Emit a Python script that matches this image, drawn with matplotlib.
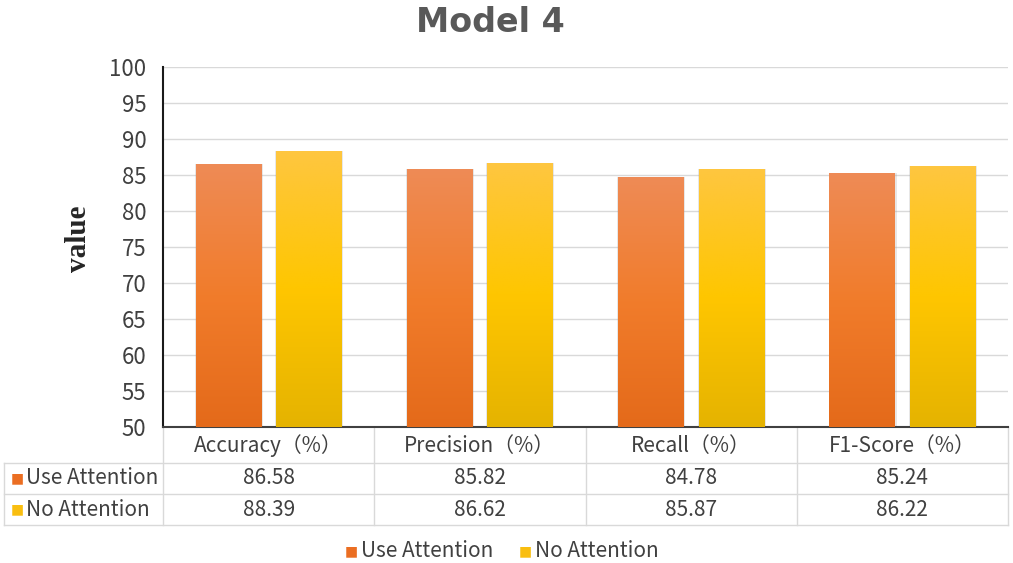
import numpy as np
import matplotlib
matplotlib.use("Agg")
from matplotlib import pyplot as plt
from matplotlib.colors import LinearSegmentedColormap
from matplotlib.patches import Rectangle
from matplotlib.transforms import blended_transform_factory

plt.rcParams['font.family'] = ['Noto Sans CJK SC', 'DejaVu Sans']

# データ
categories = ['Accuracy（%）', 'Precision（%）', 'Recall（%）', 'F1-Score（%）']
series_names = ['Use Attention', 'No Attention']
use_att = [86.58, 85.82, 84.78, 85.24]
no_att = [88.39, 86.62, 85.87, 86.22]
yticks = [50, 55, 60, 65, 70, 75, 80, 85, 90, 95, 100]

W, H = 1013, 563
FS = 15
TC = '#404040'
fig = plt.figure(figsize=(W / 100, H / 100), dpi=100)
ax = fig.add_axes([163 / W, 1 - 427 / H, (1008 - 163) / W, (427 - 67) / H])

# グラデーション
grad_o = LinearSegmentedColormap.from_list('o', ['#E46A1A', '#F17C2B', '#EE8B56'])
grad_y = LinearSegmentedColormap.from_list('y', ['#E5B300', '#FFC600', '#FEC640'])
grad = np.linspace(0, 1, 256).reshape(-1, 1)

x = np.arange(len(categories))
bw = 0.31
off = 0.19
for vals, dx, cmap in [(use_att, -off, grad_o), (no_att, off, grad_y)]:
    for xi, v in zip(x, vals):
        # 影
        sh = Rectangle((xi + dx - bw / 2 - 0.004, 50), bw + 0.012, v - 50,
                       facecolor='#A0A0A0', alpha=0.25, edgecolor='none', zorder=2)
        ax.add_patch(sh)
        r = Rectangle((xi + dx - bw / 2, 50), bw, v - 50, facecolor='none',
                      edgecolor='none', zorder=3)
        ax.add_patch(r)
        im = ax.imshow(grad, cmap=cmap, origin='lower', aspect='auto',
                       extent=[xi + dx - bw / 2, xi + dx + bw / 2, 50, v], zorder=3)
        im.set_clip_path(r)

ax.set_xlim(-0.5, len(categories) - 0.5)
ax.set_ylim(50, 100)
ax.set_yticks(yticks)
ax.set_xticks([])
ax.tick_params(axis='y', length=0, labelsize=16, labelcolor=TC, pad=12)
for lb in ax.get_yticklabels():
    lb.set_fontweight('light')
for t in yticks[1:]:
    ax.axhline(t, color='#D9D9D9', lw=1, zorder=1)
for s in ['top', 'right']:
    ax.spines[s].set_visible(False)
ax.spines['left'].set_color('#1a1a1a')
ax.spines['left'].set_linewidth(1.5)
ax.spines['bottom'].set_color('#404040')
ax.spines['bottom'].set_linewidth(1.5)
ax.set_ylabel('value', family='Liberation Serif', fontweight='bold', fontsize=21,
              color='#262626')
ax.yaxis.set_label_coords((92 - 163) / 845, (427 - 239) / 360)

fig.text(490 / W, 1 - 22 / H, 'Model 4', fontsize=24, fontweight='bold', color='#595959',
         family='DejaVu Sans', ha='center', va='center')

# データテーブル
tr = blended_transform_factory(ax.transData, fig.transFigure)
fy = lambda py: 1 - py / H
rows = [427, 463, 494, 525]
lc = '#D9D9D9'
x_left = -0.5 - (163 - 4) / ((1008 - 163) / 4)
for i in range(1, 4):
    ax.plot([x_left, 3.5], [fy(rows[i])] * 2, color=lc, lw=1, transform=tr, clip_on=False)
for xe in np.arange(-0.5, 4.0, 1.0):
    ax.plot([xe, xe], [fy(427), fy(525)], color=lc, lw=1, transform=tr, clip_on=False)
ax.plot([x_left, x_left], [fy(463), fy(525)], color=lc, lw=1, transform=tr, clip_on=False)

for xi, c in zip(x, categories):
    ax.text(xi, fy(446), c, ha='center', va='center', fontsize=FS, color=TC,
            fontweight='light', transform=tr)
colors = ['#EB6E22', '#F9BE10']
for ri, (name, vals) in enumerate(zip(series_names, [use_att, no_att])):
    yc = fy((rows[ri + 1] + rows[ri + 2]) / 2)
    fig.text(11 / W, yc, '■', color=colors[ri], fontsize=10, ha='left', va='center',
             family='DejaVu Sans')
    fig.text(26 / W, yc, name, fontsize=FS, color=TC, ha='left', va='center',
             fontweight='light')
    for xi, v in zip(x, vals):
        ax.text(xi, yc, f'{v:.2f}', ha='center', va='center', fontsize=FS,
                color=TC, fontweight='light', transform=tr)

# 凡例
for name, col, px in [(series_names[0], colors[0], 345), (series_names[1], colors[1], 519)]:
    fig.text(px / W, fy(551), '■', color=col, fontsize=10, ha='left', va='center',
             family='DejaVu Sans')
    fig.text((px + 16) / W, fy(551), name, fontsize=FS, color=TC,
             ha='left', va='center', fontweight='light')

fig.savefig('out.png', dpi=100)
